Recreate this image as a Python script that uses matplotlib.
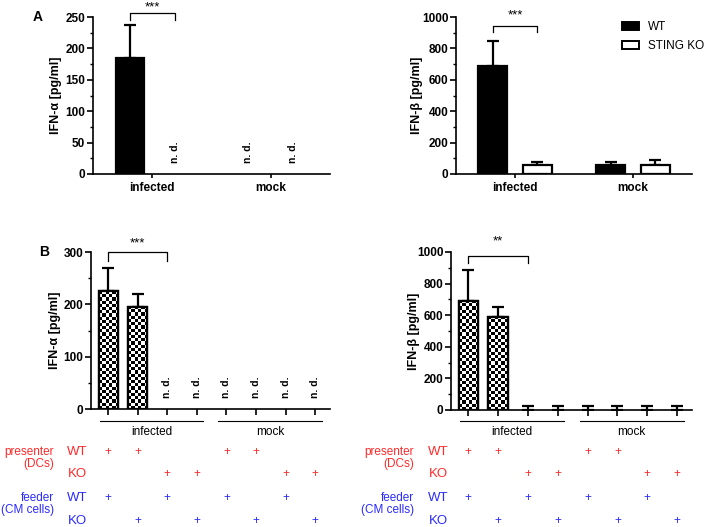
import matplotlib
matplotlib.use("Agg")
import matplotlib.pyplot as plt
import numpy as np
from matplotlib.patches import Patch
from matplotlib.ticker import MultipleLocator
from matplotlib.transforms import blended_transform_factory

plt.rcParams['font.family'] = ['Liberation Sans', 'DejaVu Sans']

# Panel A : DCs WT vs STING KO
groups_a = ["infected", "mock"]
ifna_wt = [185, None]
ifna_wt_err = [52, None]
ifna_ko = [None, None]
ifna_ko_err = [None, None]
ifnb_wt = [690, 55]
ifnb_wt_err = [160, 23]
ifnb_ko = [55, 55]
ifnb_ko_err = [20, 33]

# Panel B : presenter / feeder combinations
presenter = ["WT", "WT", "KO", "KO", "WT", "WT", "KO", "KO"]
feeder = ["WT", "KO", "WT", "KO", "WT", "KO", "WT", "KO"]
groups_b = ["infected", "mock"]
ifna_b = [225, 195, None, None, None, None, None, None]
ifna_b_err = [45, 25, None, None, None, None, None, None]
ifnb_b = [690, 590, 0, 0, 0, 0, 0, 0]
ifnb_b_err = [195, 60, 25, 25, 25, 25, 25, 25]

RED = "#ff2a2a"
BLUE = "#2a2aff"
W, H = 708, 527


def add_axes_px(left, right, top, bottom):
    return fig.add_axes([left / W, 1 - bottom / H, (right - left) / W, (bottom - top) / H])


def style_axis(ax, ymax, major, minor):
    for s in ["top", "right"]:
        ax.spines[s].set_visible(False)
    for s in ["left", "bottom"]:
        ax.spines[s].set_linewidth(1.2)
    ax.set_ylim(0, ymax)
    ax.yaxis.set_major_locator(MultipleLocator(major))
    ax.yaxis.set_minor_locator(MultipleLocator(minor))
    ax.tick_params(axis="y", which="major", length=4, width=1.2, labelsize=8.5, pad=1.5)
    ax.tick_params(axis="y", which="minor", length=2, width=1.0)
    ax.tick_params(axis="x", which="major", length=3, width=1.2, labelsize=8.5, pad=3)
    for lab in ax.get_yticklabels() + ax.get_xticklabels():
        lab.set_fontweight("bold")


def draw_bars(ax, xs, vals, errs, width, face, checker=False):
    for x, v, e in zip(xs, vals, errs):
        if v is None:
            ax.annotate("n. d.", (x, 0), xytext=(0, 8), textcoords="offset points",
                        rotation=90, ha="center", va="bottom", fontsize=7.5, fontweight="bold")
            continue
        if checker and v > 0:
            bar = ax.bar(x, v, width, facecolor="white", edgecolor="black", linewidth=1.6, zorder=2)[0]
            (px0, py0), (px1, py1) = ax.transData.transform([(x - width / 2, 0), (x + width / 2, v)])
            nx = max(1, int(round((px1 - px0) / 3.2)))
            ny = max(1, int(round((py1 - py0) / 3.2)))
            board = np.indices((ny, nx)).sum(0) % 2
            im = ax.imshow(board, extent=(x - width / 2, x + width / 2, 0, v), cmap="gray",
                           interpolation="nearest", aspect="auto", zorder=2.5)
            im.set_clip_path(bar)
            ax.bar(x, v, width, facecolor="none", edgecolor="black", linewidth=1.6, zorder=3)
        elif v > 0:
            ax.bar(x, v, width, facecolor=face, edgecolor="black", linewidth=1.6, zorder=2)
        if e is not None:
            ax.errorbar(x, v, yerr=[[0], [e]], fmt="none", ecolor="black",
                        elinewidth=1.6, capsize=4, capthick=1.6, zorder=1.5)


def bracket(ax, x0, x1, ytop, yleg, stars, ystar):
    ax.plot([x0, x0, x1, x1], [yleg, ytop, ytop, yleg], color="black", lw=0.9, clip_on=False)
    ax.text((x0 + x1) / 2, ystar, stars, ha="center", va="center", fontsize=9.5, clip_on=False)


fig = plt.figure(figsize=(W / 100, H / 100), dpi=100)

# ---------- Panel A ----------
off, bw = 0.19, 0.24
xa = np.arange(len(groups_a))

axA1 = add_axes_px(93, 330, 17, 174)
axA1.set_xlim(-0.5, 1.5)
style_axis(axA1, 250, 50, 25)
draw_bars(axA1, xa - off, ifna_wt, ifna_wt_err, bw, "black")
draw_bars(axA1, xa + off, ifna_ko, ifna_ko_err, bw, "white")
axA1.set_xticks(xa)
axA1.set_xticklabels(groups_a, fontweight="bold", fontsize=8.5)
axA1.set_ylabel("IFN-α [pg/ml]", fontsize=9, fontweight="bold")
axA1.yaxis.set_label_coords(-0.13, 0.5)
bracket(axA1, -off, off, 256, 246, "***", 266)
fig.text(38 / W, 1 - 17 / H, "A", fontsize=10, fontweight="bold", ha="center", va="center")

axA2 = add_axes_px(456, 692, 17, 174)
axA2.set_xlim(-0.5, 1.5)
style_axis(axA2, 1000, 200, 100)
draw_bars(axA2, xa - off, ifnb_wt, ifnb_wt_err, bw, "black")
draw_bars(axA2, xa + off, ifnb_ko, ifnb_ko_err, bw, "white")
axA2.set_xticks(xa)
axA2.set_xticklabels(groups_a, fontweight="bold", fontsize=8.5)
axA2.set_ylabel("IFN-β [pg/ml]", fontsize=9, fontweight="bold")
axA2.yaxis.set_label_coords(-0.14, 0.5)
bracket(axA2, -off, off, 943, 904, "***", 1010)
handles = [Patch(facecolor="black", edgecolor="black", linewidth=1.4),
           Patch(facecolor="white", edgecolor="black", linewidth=1.4)]
axA2.legend(handles, ["WT", "STING KO"], loc="upper left", bbox_to_anchor=(0.66, 1.04),
            frameon=False, fontsize=8.5, handlelength=1.4, handleheight=0.7,
            labelspacing=0.6, handletextpad=0.8)

# ---------- Panel B ----------
xb = np.arange(len(presenter))
bwb = 0.65


def panel_b(ax, vals, errs, ymax, major, minor, ylabel, rx_label, rx_name):
    ax.set_xlim(-0.58, 7.5)
    style_axis(ax, ymax, major, minor)
    draw_bars(ax, xb, vals, errs, bwb, "white", checker=True)
    ax.set_xlim(-0.58, 7.5)
    ax.set_ylim(0, ymax)
    ax.set_xticks(xb)
    ax.set_xticklabels([])
    ax.tick_params(axis="x", length=4)
    ax.set_ylabel(ylabel, fontsize=9, fontweight="bold")
    tr = blended_transform_factory(ax.transData, fig.transFigure)
    # group lines and names
    for gi, name in enumerate(groups_b):
        lo, hi = gi * 4 - 0.27, gi * 4 + 3.22
        ax.plot([lo, hi], [1 - 421 / H] * 2, transform=tr, color="black", lw=0.8, clip_on=False)
        ax.text((lo + hi) / 2, 1 - 432 / H, name, transform=tr, ha="center", va="center", fontsize=8.5)
    # condition table
    rows = [(presenter, "WT", 452, RED), (presenter, "KO", 474, RED),
            (feeder, "WT", 498, BLUE), (feeder, "KO", 521, BLUE)]
    for arr, key, yp, col in rows:
        fig.text(rx_label / W, 1 - yp / H, key, color=col, fontsize=9.5, ha="center", va="center")
        for x, v in zip(xb, arr):
            if v == key:
                ax.text(x, 1 - yp / H, "+", transform=tr, color=col, fontsize=8.5,
                        ha="center", va="center")
    fig.text(rx_name / W, 1 - 458 / H, "presenter\n(DCs)", color=RED, fontsize=8.5,
             ha="right", va="center", multialignment="right", linespacing=1.1)
    fig.text(rx_name / W, 1 - 504 / H, "feeder\n(CM cells)", color=BLUE, fontsize=8.5,
             ha="right", va="center", multialignment="right", linespacing=1.1)


axB1 = add_axes_px(91, 330, 252, 409)
panel_b(axB1, ifna_b, ifna_b_err, 300, 100, 50, "IFN-α [pg/ml]", 77, 54)
axB1.yaxis.set_label_coords(-0.125, 0.5)
bracket(axB1, 0, 2, 300, 283, "***", 317)
fig.text(44 / W, 1 - 252 / H, "B", fontsize=10, fontweight="bold", ha="center", va="center")

axB2 = add_axes_px(451, 692, 252, 410)
panel_b(axB2, ifnb_b, ifnb_b_err, 1000, 200, 100, "IFN-β [pg/ml]", 438, 414)
axB2.yaxis.set_label_coords(-0.13, 0.5)
bracket(axB2, 0, 2, 975, 930, "**", 1065)

fig.savefig("out.png", dpi=100)
